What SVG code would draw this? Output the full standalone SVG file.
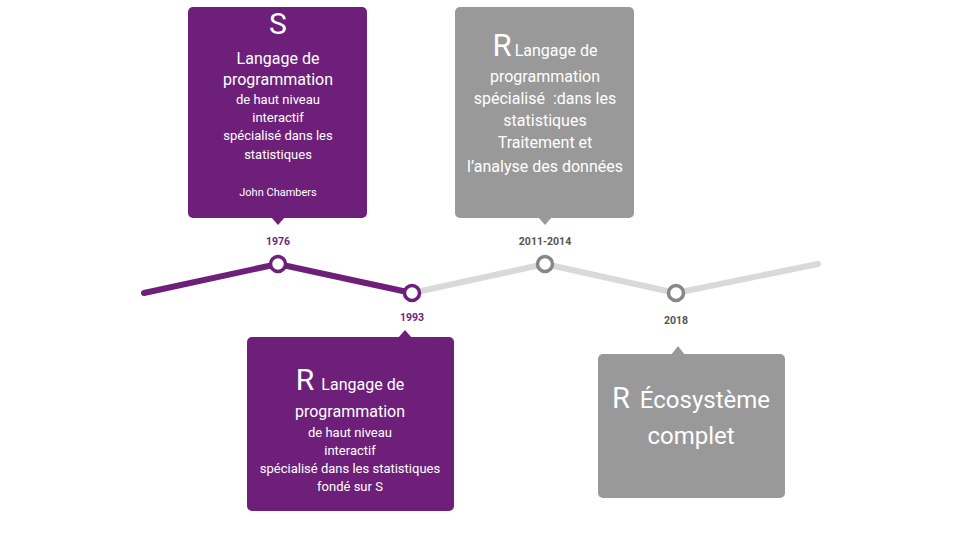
<svg xmlns="http://www.w3.org/2000/svg" width="960" height="540" viewBox="0 0 960 540">
<style>
text{font-family:Roboto,"Liberation Sans",sans-serif;fill:#ffffff;text-anchor:middle}
.p{fill:#6e1f7a}
.g{fill:#999999}
.yr{font-size:10.5px;font-weight:bold}
.yp{fill:#6e1f7a}
.yg{fill:#555555}
.big{font-size:30px}
.m{font-size:16px}
.s{font-size:13px}
.xs{font-size:11px}
.dot{fill:#ffffff;stroke-width:3.5}
</style>
<rect width="960" height="540" fill="#ffffff"/>
<g id="connectors">
<polyline points="412,293 545,264 676,293 818,264" fill="none" stroke="#d9d9d9" stroke-width="6" stroke-linecap="round" stroke-linejoin="round"/>
<polyline points="144,293 278,264 412,293" fill="none" stroke="#6e1f7a" stroke-width="6" stroke-linecap="round" stroke-linejoin="round"/>
</g>
<g id="node-1976">
<rect class="p" x="188" y="7" width="179" height="211" rx="5"/>
<polygon class="p" points="271,217 285,217 278,225"/>
<text class="big" x="278" y="34">S</text>
<text class="m" x="278" y="64">Langage de</text>
<text class="m" x="278" y="85">programmation</text>
<text class="s" x="278" y="104">de haut niveau</text>
<text class="s" x="278" y="122">interactif</text>
<text class="s" x="278" y="140">spécialisé dans les</text>
<text class="s" x="278" y="159">statistiques</text>
<text class="xs" x="278" y="196">John Chambers</text>
<circle class="dot" cx="278" cy="264" r="7.5" stroke="#6e1f7a"/>
<text class="yr yp" x="278" y="245">1976</text>
</g>
<g id="node-1993">
<rect class="p" x="247" y="337" width="207" height="174" rx="5"/>
<polygon class="p" points="398,338 412,338 405,330"/>
<text x="350" y="390"><tspan font-size="30">R</tspan><tspan font-size="16" dx="7">Langage de</tspan></text>
<text class="m" x="350" y="417">programmation</text>
<text class="s" x="350" y="437">de haut niveau</text>
<text class="s" x="350" y="455">interactif</text>
<text class="s" x="350" y="473">spécialisé dans les statistiques</text>
<text class="s" x="350" y="491">fondé sur S</text>
<circle class="dot" cx="412" cy="293" r="7.5" stroke="#6e1f7a"/>
<text class="yr yp" x="412" y="321">1993</text>
</g>
<g id="node-2011">
<rect class="g" x="455" y="7" width="179" height="211" rx="5"/>
<polygon class="g" points="538,217 552,217 545,225"/>
<text x="545" y="56"><tspan font-size="31">R</tspan><tspan font-size="16" dx="3">Langage de</tspan></text>
<text class="m" x="545" y="82">programmation</text>
<text class="m" x="545" y="104" xml:space="preserve">spécialisé  :dans les</text>
<text class="m" x="545" y="126">statistiques</text>
<text class="m" x="545" y="148">Traitement et</text>
<text class="m" x="545" y="172">l’analyse des données</text>
<circle class="dot" cx="545" cy="264" r="7.5" stroke="#878787"/>
<text class="yr yg" x="545" y="245">2011-2014</text>
</g>
<g id="node-2018">
<rect class="g" x="598" y="354" width="187" height="144" rx="5"/>
<polygon class="g" points="671,355 685,355 678,346"/>
<text x="691" y="408"><tspan font-size="29">R</tspan><tspan font-size="24" dx="10">Écosystème</tspan></text>
<text x="691" y="444" font-size="24">complet</text>
<circle class="dot" cx="676" cy="293" r="7.5" stroke="#878787"/>
<text class="yr yg" x="676" y="324">2018</text>
</g>
</svg>
